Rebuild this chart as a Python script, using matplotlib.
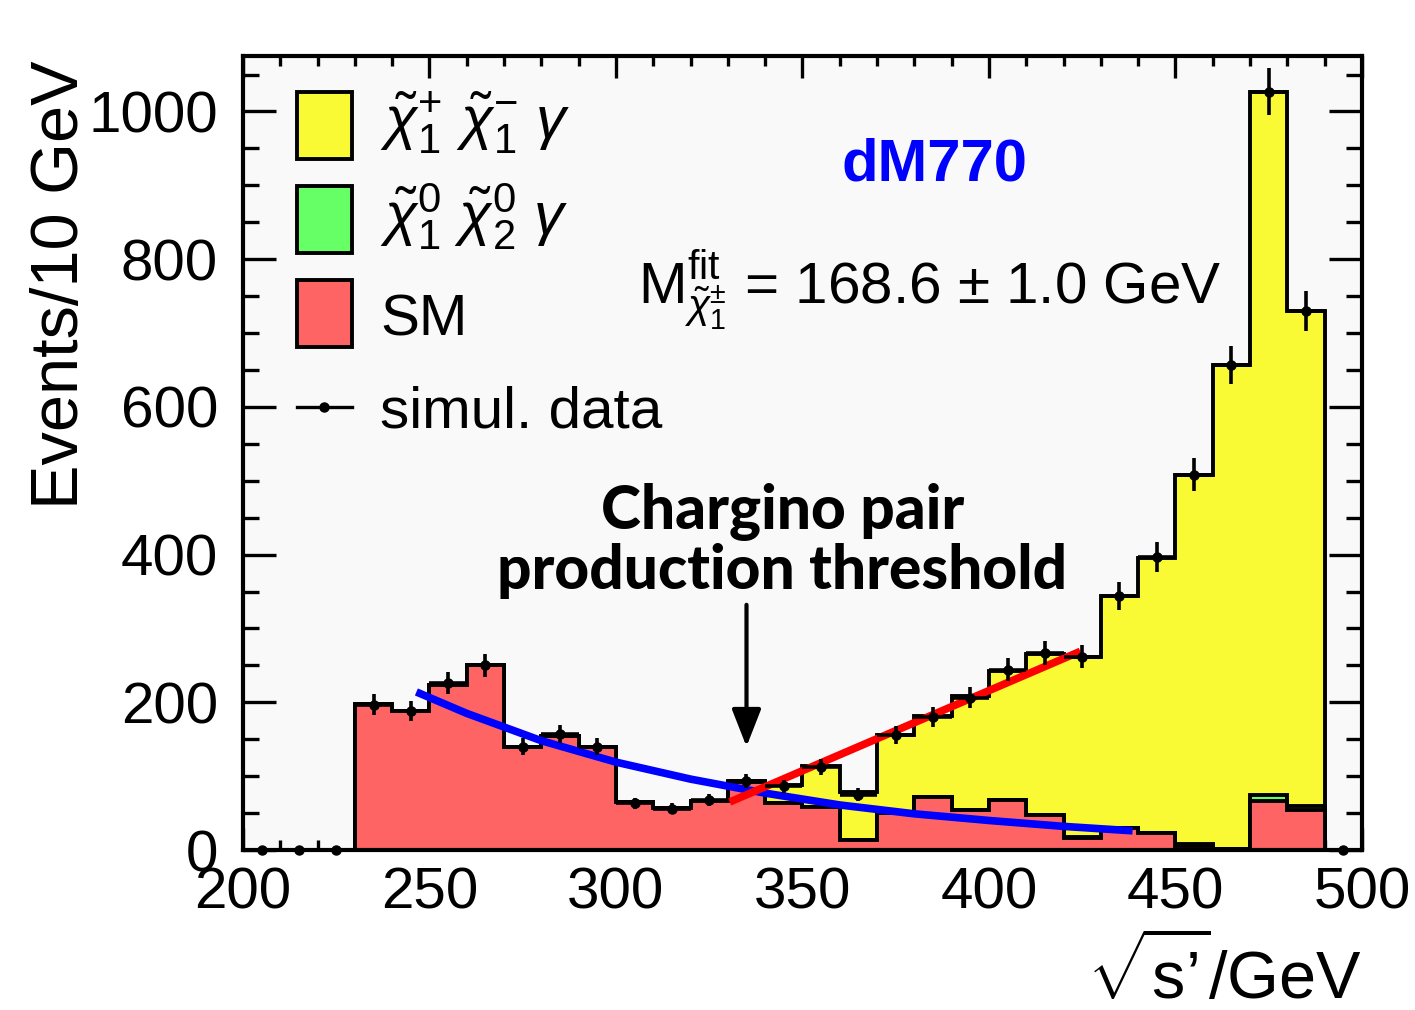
import numpy as np
import matplotlib
matplotlib.use('Agg')
import matplotlib.pyplot as plt
from matplotlib.patches import Rectangle
from matplotlib.lines import Line2D

plt.rcParams['font.family'] = ['Liberation Sans', 'DejaVu Sans']
plt.rcParams['mathtext.fontset'] = 'custom'
plt.rcParams['mathtext.rm'] = 'Liberation Sans'
plt.rcParams['mathtext.it'] = 'Liberation Sans:italic'
plt.rcParams['mathtext.bf'] = 'Liberation Sans:bold'

# ---------------- data ----------------
bin_edges = [200, 210, 220, 230, 240, 250, 260, 270, 280, 290, 300,
             310, 320, 330, 340, 350, 360, 370, 380, 390, 400,
             410, 420, 430, 440, 450, 460, 470, 480, 490, 500]
sm_counts = [0, 0, 0, 198, 188, 224, 251, 140, 155, 140,
             65, 57, 66, 92, 63, 58, 13, 50, 72, 54,
             68, 48, 16, 30, 23, 5, 1, 66, 54, 0]
neutralino_counts = [0, 0, 0, 0, 0, 0, 0, 0, 0, 0,
                     0, 0, 0, 0, 0, 0, 0, 0, 0, 0,
                     0, 0, 2, 0, 0, 3, 1, 8, 6, 0]
chargino_counts = [0, 0, 0, 0, 0, 0, 0, 0, 0, 0,
                   0, 0, 0, 2, 25, 56, 65, 106, 109, 154,
                   175, 217, 244, 314, 373, 500, 655, 953, 670, 0]
data_counts = [0, 0, 0, 197, 188, 226, 250, 140, 157, 140,
               63, 56, 68, 93, 86, 112, 75, 156, 180, 206,
               244, 267, 262, 344, 397, 508, 657, 1027, 730, 0]

bkg_fit_x = [246.5, 260, 280, 300, 320, 340, 360, 380, 400, 420, 438.5]
bkg_fit_y = [214, 185, 148, 119, 96, 77, 61, 49, 40, 32, 26]
sig_fit_x = [330.5, 424.5]
sig_fit_y = [65, 269]

threshold_x = 335

xticks_major = [200, 250, 300, 350, 400, 450, 500]
yticks_major = [0, 200, 400, 600, 800, 1000]

# ---------------- style ----------------
YELLOW = '#F9F934'
GREEN = '#66FF66'
RED = '#FF6464'

fig = plt.figure(figsize=(14.15, 10.10), dpi=100)
fig.patch.set_facecolor('white')
ax = fig.add_axes([0.1717, 0.1584, 0.7908, 0.7861])
ax.set_facecolor('#F9F9F9')

edges = np.array(bin_edges, dtype=float)
sm = np.array(sm_counts, dtype=float)
neu = np.array(neutralino_counts, dtype=float)
chi = np.array(chargino_counts, dtype=float)
dat = np.array(data_counts, dtype=float)
centers = 0.5 * (edges[:-1] + edges[1:])

hlw = 2.8
ax.stairs(sm + neu + chi, edges, fill=True, facecolor=YELLOW, edgecolor='black', lw=hlw, zorder=2)
ax.stairs(sm + neu, edges, fill=True, facecolor=GREEN, edgecolor='black', lw=hlw, zorder=2.1)
ax.stairs(sm, edges, fill=True, facecolor=RED, edgecolor='black', lw=hlw, zorder=2.2)

ax.plot(bkg_fit_x, bkg_fit_y, color='#0000FF', lw=5.5, solid_capstyle='butt', zorder=3)
ax.plot(sig_fit_x, sig_fit_y, color='#FF0000', lw=5.5, solid_capstyle='butt', zorder=3)

ax.errorbar(centers, dat, xerr=5, yerr=np.sqrt(dat), fmt='o', ms=6.5, color='black',
            elinewidth=2.6, capsize=0, zorder=4, clip_on=False)

ax.set_xlim(200, 500)
ax.set_ylim(0, 1075)

ax.set_xticks(xticks_major)
ax.set_xticks(np.arange(200, 501, 10), minor=True)
ax.set_yticks(yticks_major)
ax.set_yticks(np.arange(0, 1076, 50), minor=True)
ax.tick_params(which='both', direction='in', top=True, right=True, width=2.4,
               labelsize=42, color='black')
ax.tick_params(axis='x', which='major', length=16, pad=12)
ax.tick_params(axis='x', which='minor', length=7.5)
ax.tick_params(axis='y', which='major', length=23.5, pad=18)
ax.tick_params(axis='y', which='minor', length=11.5)
for s in ax.spines.values():
    s.set_linewidth(3)
    s.set_zorder(6)

ax.set_ylabel('Events/10 GeV', fontsize=48, loc='top')
ax.yaxis.set_label_coords(-0.135, 0.995)
ax.set_xlabel(r"$\sqrt{\mathregular{s’}}$/GeV", fontsize=48, loc='right')
ax.xaxis.set_label_coords(1.0, -0.108)

# ---------------- legend (manual, ROOT style) ----------------
bx0, bw = 0.0483, 0.0491
boxes = [(0.8703, 0.0844, YELLOW), (0.7523, 0.0840, GREEN), (0.6339, 0.0840, RED)]
for y0, h, c in boxes:
    ax.add_patch(Rectangle((bx0, y0), bw, h, transform=ax.transAxes, facecolor=c,
                           edgecolor='black', lw=2.8, zorder=7))
ax.add_line(Line2D([bx0, bx0 + bw], [0.558, 0.558], transform=ax.transAxes,
                   color='black', lw=2.4, zorder=7))
ax.add_line(Line2D([bx0 + bw / 2], [0.558], transform=ax.transAxes, marker='o',
                   ms=6.5, color='black', zorder=7))
tx = 0.1224
ax.text(tx, 0.8967, r'$\tilde{\chi}^{+}_{1}\ \tilde{\chi}^{-}_{1}\ \gamma$', transform=ax.transAxes,
        fontsize=43, va='baseline', ha='left', zorder=7)
ax.text(tx, 0.7758, r'$\tilde{\chi}^{0}_{1}\ \tilde{\chi}^{0}_{2}\ \gamma$', transform=ax.transAxes,
        fontsize=43, va='baseline', ha='left', zorder=7)
ax.text(tx, 0.6486, 'SM', transform=ax.transAxes, fontsize=42, va='baseline', ha='left', zorder=7)
ax.text(tx, 0.5327, 'simul. data', transform=ax.transAxes, fontsize=42, va='baseline', ha='left', zorder=7)

# ---------------- annotations ----------------
ax.text(385.5, 906, 'dM770', color='#0000FF', fontsize=43, fontweight='bold',
        ha='center', va='baseline', zorder=7)
ax.text(306.0, 740, r'$\mathregular{M}^{\mathregular{fit}}_{\tilde{\chi}^{\pm}_{1}}$ = 168.6 $\pm$ 1.0 GeV',
        fontsize=42, ha='left', va='baseline', zorder=7)

ax.text(344.6, 435, 'Chargino pair', fontsize=43.5, fontweight='black',
        family=['Lato', 'DejaVu Sans'], ha='center', va='baseline', zorder=7)
ax.text(344.6, 353, 'production threshold', fontsize=43.5, fontweight='black',
        family=['Lato', 'DejaVu Sans'], ha='center', va='baseline', zorder=7)

ax.annotate('', xy=(threshold_x, 140), xytext=(threshold_x, 332),
            arrowprops=dict(arrowstyle='-|>,head_length=1.15,head_width=0.45',
                            mutation_scale=20, lw=3, color='black',
                            shrinkA=0, shrinkB=0), zorder=7)

fig.savefig('out.png', dpi=100)
